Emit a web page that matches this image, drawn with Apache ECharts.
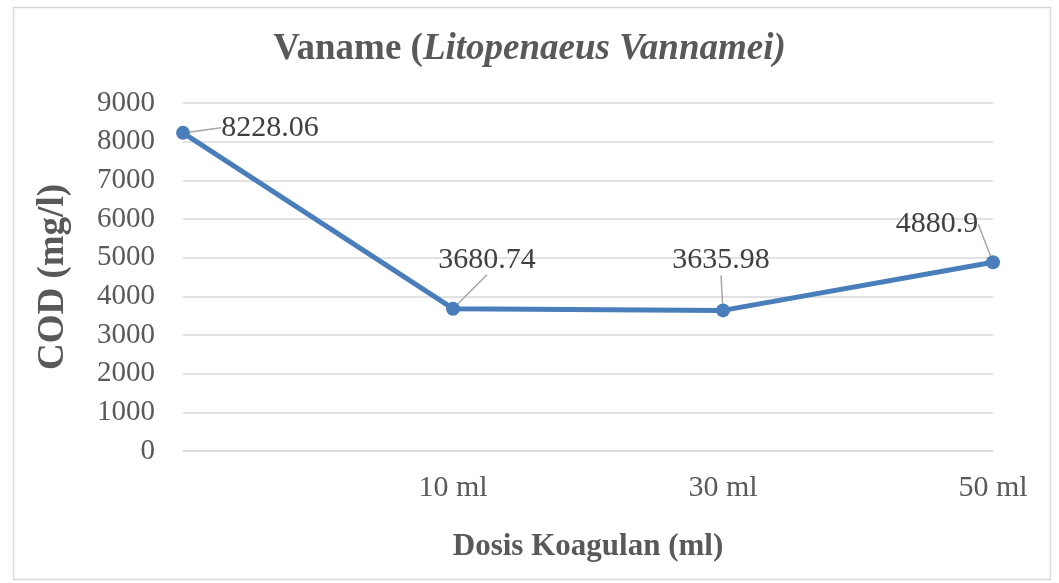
<!DOCTYPE html>
<html><head><meta charset="utf-8">
<script src="https://cdn.jsdelivr.net/npm/echarts@6/dist/echarts.min.js"></script>
<style>html,body{margin:0;padding:0;background:#fff}#c{width:1059px;height:583px}</style>
</head><body><div id="c"></div>
<script>
const categories = ['', '10 ml', '30 ml', '50 ml'];
const codValues = [8228.06, 3680.74, 3635.98, 4880.9];
const yTicks = [0, 1000, 2000, 3000, 4000, 5000, 6000, 7000, 8000, 9000];
const labelShift = [[87, -5], [34, -49], [-2, -50], [-56, -38]];

const FONT = '"Liberation Serif", "DejaVu Serif", serif';
const chart = echarts.init(document.getElementById('c'));
chart.setOption({
  animation: false,
  backgroundColor: '#fff',
  graphic: [{
    type: 'rect', shape: {x: 13.5, y: 7.5, width: 1037, height: 572},
    style: {fill: 'none', stroke: '#d9d9d9', lineWidth: 1.5}, z: -1
  }],
  title: {
    left: 'center', top: 26,
    text: '{b|Vaname (}{bi|Litopenaeus Vannamei)}',
    textStyle: {
      rich: {
        b: {fontFamily: FONT, fontWeight: 'bold', fontSize: 37, color: '#595959'},
        bi: {fontFamily: FONT, fontWeight: 'bold', fontStyle: 'italic', fontSize: 37, color: '#595959'}
      }
    }
  },
  grid: {left: 183, right: 66, top: 103, bottom: 132},
  xAxis: {
    type: 'category', data: categories, boundaryGap: false,
    name: 'Dosis Koagulan (ml)', nameLocation: 'middle', nameGap: 80,
    nameTextStyle: {fontFamily: FONT, fontWeight: 'bold', fontSize: 31, color: '#595959'},
    axisTick: {show: false},
    axisLine: {lineStyle: {color: '#d9d9d9', width: 1.5}},
    axisLabel: {fontFamily: FONT, fontSize: 30, color: '#595959', margin: 22}
  },
  yAxis: {
    type: 'value', min: yTicks[0], max: yTicks[yTicks.length - 1], interval: 1000,
    name: 'COD (mg/l)', nameLocation: 'middle', nameGap: 111,
    nameTextStyle: {fontFamily: FONT, fontWeight: 'bold', fontSize: 37, color: '#595959'},
    axisLine: {show: false}, axisTick: {show: false},
    splitLine: {lineStyle: {color: '#d9d9d9', width: 1.5}},
    axisLabel: {fontFamily: FONT, fontSize: 29, color: '#595959', margin: 28, formatter: v => String(v)}
  },
  series: [{
    type: 'line', data: codValues,
    symbol: 'circle', symbolSize: 14,
    lineStyle: {color: '#4a7ebb', width: 5},
    itemStyle: {color: '#4a7ebb'},
    label: {
      show: true, position: 'inside',
      fontFamily: FONT, fontSize: 30, color: '#404040',
      formatter: p => String(p.value)
    },
    labelLine: {show: true, lineStyle: {color: '#a6a6a6', width: 1.5}},
    labelLayout: p => ({dx: labelShift[p.dataIndex][0], dy: labelShift[p.dataIndex][1]})
  }]
});
</script></body></html>
